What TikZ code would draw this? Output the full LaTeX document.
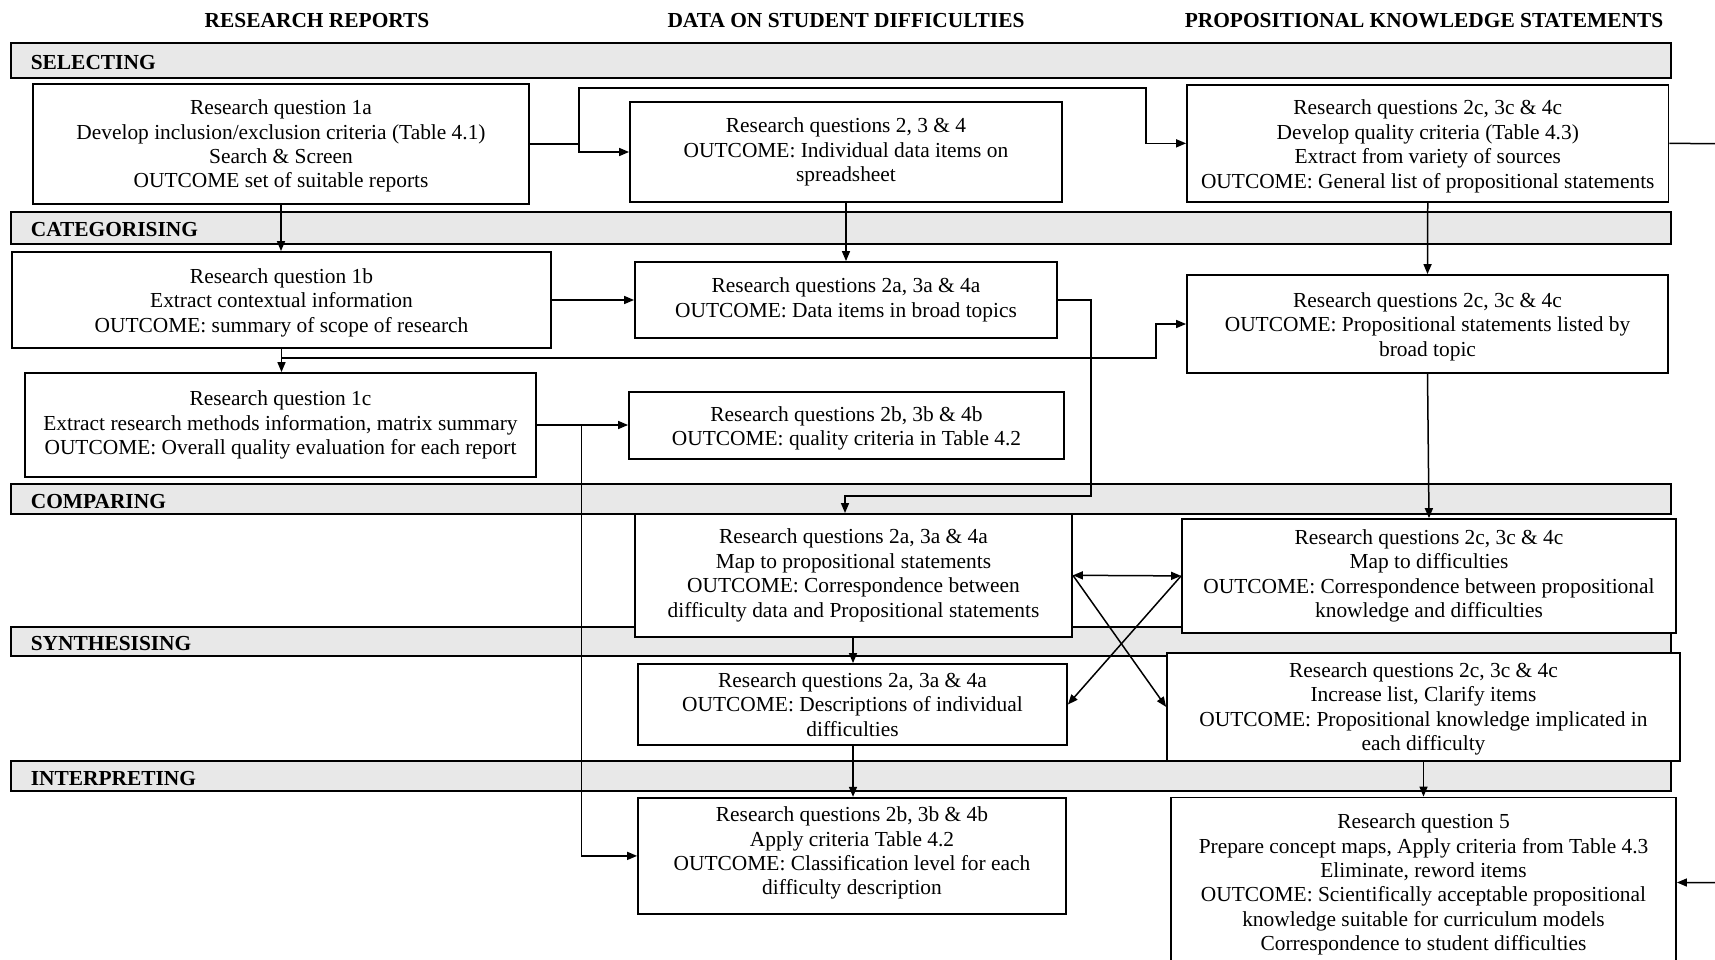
\documentclass[tikz,border=0pt]{standalone}
\usepackage{fontspec}
\setmainfont{Liberation Serif}
\usetikzlibrary{arrows.meta}
\definecolor{barfill}{RGB}{232,232,232}
% invisible strut that raises the height of a first line of text
\newcommand{\padtop}[1]{\rule{0pt}{#1}}
\tikzset{
  x=1pt, y=-1pt,
  every node/.style={font=\fontsize{21.4}{24.4}\selectfont},
  stage/.style={draw, line width=2pt, fill=barfill, minimum width=1660pt, inner sep=0},
  stagelabel/.style={anchor=west, inner sep=0, font=\fontsize{21.4}{24.4}\selectfont\bfseries},
  colhead/.style={inner sep=0, font=\fontsize{21.4}{24.4}\selectfont\bfseries},
  box/.style={draw, line width=1.8pt, fill=white, align=center, inner sep=0},
  txtup/.style={execute at end node={\rule[-#1]{0pt}{0pt}}},
  conn/.style={line width=1.5pt},
  tip/.tip={Triangle[length=10pt,width=8pt]},
  arr/.style={conn, -tip},
  darr/.style={conn, tip-tip},
}
\begin{document}
\begin{tikzpicture}
\useasboundingbox (0,0) rectangle (1715,960);
\clip (0,0) rectangle (1715,960);

% column headings
\node[colhead] (h1) at (317,20.8) {RESEARCH REPORTS};
\node[colhead] (h2) at (846,20.8) {DATA ON STUDENT DIFFICULTIES};
\node[colhead] (h3) at (1424,20.8) {PROPOSITIONAL KNOWLEDGE STATEMENTS};

% stage bars
\node[stage, minimum height=35.6pt] (sel) at (841,60.5) {};
\node[stage, minimum height=32pt]   (cat) at (841,228) {};
\node[stage, minimum height=30pt]   (cmp) at (841,499) {};
\node[stage, minimum height=29.3pt] (syn) at (841,641.3) {};
\node[stage, minimum height=30pt]   (int) at (841,775.7) {};
\node[stagelabel] (selL) at (30.6,62.5) {SELECTING};
\node[stagelabel] (catL) at (30.6,230) {CATEGORISING};
\node[stagelabel] (cmpL) at (30.6,502) {COMPARING};
\node[stagelabel] (synL) at (30.6,643.5) {SYNTHESISING};
\node[stagelabel] (intL) at (30.6,778.5) {INTERPRETING};

% research reports column
\node[box, minimum width=496pt, minimum height=120pt] (b1a) at (281,144)
  {\padtop{19pt}Research question 1a\\ Develop inclusion/exclusion criteria (Table 4.1)\\ Search \& Screen\\ OUTCOME set of suitable reports};
\node[box, minimum width=539pt, minimum height=96pt] (b1b) at (281.5,300)
  {\padtop{20pt}Research question 1b\\ Extract contextual information\\ OUTCOME: summary of scope of research};
\node[box, minimum width=511pt, minimum height=104pt] (b1c) at (280.5,425)
  {Research question 1c\\ Extract research methods information, matrix summary\\ OUTCOME: Overall quality evaluation for each report};

% student difficulties column
\node[box, minimum width=432pt, minimum height=100pt] (b234) at (846,152)
  {Research questions 2, 3 \& 4\\ OUTCOME: Individual data items on\\ spreadsheet};
\node[box, minimum width=422pt, minimum height=76pt] (b2a) at (846,300)
  {Research questions 2a, 3a \& 4a\\ OUTCOME: Data items in broad topics};
\node[box, minimum width=435pt, minimum height=67.3pt] (b2b) at (846.5,425.3)
  {\padtop{21pt}Research questions 2b, 3b \& 4b\\ OUTCOME: quality criteria in Table 4.2};
\node[box, minimum width=437pt, minimum height=122.7pt] (bcmp) at (853.5,575.3)
  {Research questions 2a, 3a \& 4a\\ Map to propositional statements\\ OUTCOME: Correspondence between\\ difficulty data and Propositional statements};
\node[box, minimum width=429pt, minimum height=81pt] (bsyn) at (852.5,704.5)
  {Research questions 2a, 3a \& 4a\\ OUTCOME: Descriptions of individual\\ difficulties};
\node[box, txtup=10pt, minimum width=428pt, minimum height=116.3pt] (bint) at (852,855.9)
  {Research questions 2b, 3b \& 4b\\ Apply criteria Table 4.2\\ OUTCOME: Classification level for each\\ difficulty description};

% propositional knowledge column
\node[box, minimum width=481.5pt, minimum height=116.7pt] (b2c1) at (1427.75,143.35)
  {\padtop{21pt}Research questions 2c, 3c \& 4c\\ Develop quality criteria (Table 4.3)\\ Extract from variety of sources\\ OUTCOME: General list of propositional statements};
\node[box, minimum width=481pt, minimum height=98pt] (b2c2) at (1427.5,324)
  {\padtop{20pt}Research questions 2c, 3c \& 4c\\ OUTCOME: Propositional statements listed by\\ broad topic};
\node[box, minimum width=494pt, minimum height=113.7pt] (bmap) at (1429,575.9)
  {Research questions 2c, 3c \& 4c\\ Map to difficulties\\ OUTCOME: Correspondence between propositional\\ knowledge and difficulties};
\node[box, minimum width=513pt, minimum height=107.7pt] (binc) at (1423.5,706.9)
  {\padtop{19pt}Research questions 2c, 3c \& 4c\\ Increase list, Clarify items\\ OUTCOME: Propositional knowledge implicated in\\ each difficulty};
\node[box, minimum width=505pt, minimum height=170pt] (b5) at (1423.5,882.5)
  {\padtop{19pt}Research question 5\\ Prepare concept maps, Apply criteria from Table 4.3\\ Eliminate, reword items\\ OUTCOME: Scientifically acceptable propositional\\ knowledge suitable for curriculum models\\ Correspondence to student difficulties};

% junction points of the routed connectors
\coordinate (jA) at (579,144);
\coordinate (jB) at (579,88);
\coordinate (jC) at (1146,88);
\coordinate (jD) at (281.5,358);
\coordinate (jE) at (1156,358);
\coordinate (jF) at (1091,496);
\coordinate (jG) at (845,496);
\coordinate (jH) at (581.5,425);
\coordinate (jR) at (1760,144);

% connectors
\draw[arr] (b1a.east) -- (jA) |- (b234.west);
\draw[arr] (jA) -- (jB) -- (jC) |- (b2c1.west);
\draw[arr] (b1a.south) -- (b1a.south |- b1b.north);
\draw[arr] (b234.south) -- (b234.south |- b2a.north);
\draw[arr] (b2c1.south) -- (b2c2.north);
\draw[arr] (b1b.east) -- (b1b.east -| b2a.west);
\draw[arr] (b1b.south) -- (b1b.south |- b1c.north);
\draw[arr] (jD) -- (jE) |- (b2c2.west);
\draw[arr] (b2a.east) -| (jF) -- (jG) -- (jG |- bcmp.north);
\draw[arr] (b1c.east) -- (b1c.east -| b2b.west);
\draw[arr] (jH) |- (bint.west);
\draw[arr] (b2c2.south) -- (bmap.north);
\draw[darr] (bcmp.east) -- (bmap.west);
\draw[arr] (bcmp.east) -- (binc.west);
\draw[arr] (bmap.west) -- (bsyn.east);
\draw[arr] (bcmp.south -| 853,0) -- (bsyn.north -| 853,0);
\draw[arr] (bsyn.south -| 853,0) -- (bint.north -| 853,0);
\draw[arr] (binc.south) -- (b5.north);
\draw[arr] (b2c1.east) -- (jR) |- (b5.east);
\end{tikzpicture}
\end{document}
